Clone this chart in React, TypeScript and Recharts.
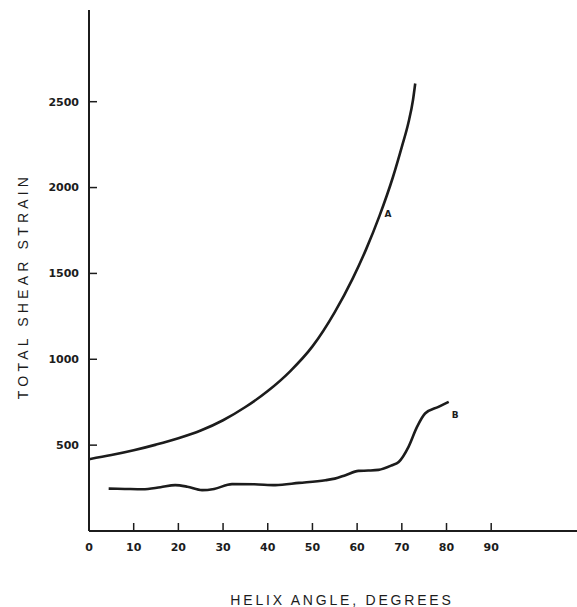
import React from "react";
import { LineChart, Line, XAxis, YAxis, LabelList } from "recharts";

// curve A: helix angle (deg) vs total shear strain
const angleA = [0, 5, 10, 15, 20, 25, 30, 35, 40, 45, 50, 55, 59, 62, 65, 68, 70, 71.5, 72.5, 73];
const strainA = [418, 442, 470, 503, 540, 585, 645, 722, 815, 930, 1075, 1275, 1470, 1640, 1835, 2060, 2237, 2380, 2510, 2606];

// curve B
const angleB = [4.4, 8, 12, 16, 19.3, 22, 25.3, 28, 32, 37, 41.7, 47, 52.9, 55, 57.4, 60.3, 62.5, 64.8, 67.8, 69.3, 71.5, 73.4, 75.2, 78.2, 80.5];
const strainB = [247, 245, 243, 255, 267, 258, 238, 245, 273, 272, 267, 280, 296, 305, 325, 350, 352, 356, 383, 402, 490, 606, 684, 723, 752];

const xTicks = [0, 10, 20, 30, 40, 50, 60, 70, 80, 90];
const yTicks = [500, 1000, 1500, 2000, 2500];

const curveNames = ["A", "B"];
const labelIndexA = 14;

const dataA = angleA.map((a, i) => ({ angle: a, strain: strainA[i] }));
const dataB = angleB.map((a, i) => ({ angle: a, strain: strainB[i] }));

const INK = "#1c1c1c";
const tickStyle = {
  fontSize: 11,
  fontWeight: 700,
  fill: INK,
  fontFamily: "DejaVu Sans",
};

function XTitle() {
  return (
    <text
      x={342}
      y={605}
      textAnchor="middle"
      fontFamily="Liberation Sans"
      fontSize={14}
      letterSpacing={2.8}
      fill={INK}
    >
      HELIX ANGLE, DEGREES
    </text>
  );
}

function YTitle() {
  return (
    <text
      x={0}
      y={0}
      transform="translate(27.5, 286) rotate(-90)"
      textAnchor="middle"
      fontFamily="Liberation Sans"
      fontSize={14}
      letterSpacing={4.2}
      fill={INK}
    >
      TOTAL SHEAR STRAIN
    </text>
  );
}

function curveLabel(name: string, idx: number, dx: number, dy: number) {
  return (props: any) => {
    if (props.index !== idx) return null;
    return (
      <text
        x={props.x + dx}
        y={props.y + dy}
        fontFamily="DejaVu Sans"
        fontWeight={700}
        fontSize={9}
        fill={INK}
      >
        {name}
      </text>
    );
  };
}

export default function App() {
  return (
    <div style={{ position: "absolute", left: 0, top: 0, width: 577, height: 607, background: "#fff", overflow: "hidden" }}>
      <LineChart width={577} height={607} margin={{ top: 10, right: 0, bottom: 0, left: 0 }}>
        <XAxis
          type="number"
          dataKey="angle"
          domain={[0, 109.2]}
          ticks={xTicks}
          height={76}
          axisLine={{ stroke: INK, strokeWidth: 2 }}
          tickLine={{ stroke: INK, strokeWidth: 1.5 }}
          tickSize={-8}
          tickMargin={20}
          tick={tickStyle}
          interval={0}
          allowDataOverflow
          label={<XTitle />}
        />
        <YAxis
          type="number"
          dataKey="strain"
          domain={[0, 3034]}
          ticks={yTicks}
          width={89}
          axisLine={{ stroke: INK, strokeWidth: 2 }}
          tickLine={{ stroke: INK, strokeWidth: 1.5 }}
          tickSize={-8}
          tickMargin={18}
          tick={tickStyle}
          interval={0}
          allowDataOverflow
          label={<YTitle />}
        />
        <Line
          data={dataA}
          dataKey="strain"
          type="monotone"
          stroke={INK}
          strokeWidth={2.6}
          dot={false}
          isAnimationActive={false}
        >
          <LabelList dataKey="strain" content={curveLabel(curveNames[0], labelIndexA, 5, 1)} />
        </Line>
        <Line
          data={dataB}
          dataKey="strain"
          type="monotone"
          stroke={INK}
          strokeWidth={2.6}
          dot={false}
          isAnimationActive={false}
        >
          <LabelList dataKey="strain" content={curveLabel(curveNames[1], dataB.length - 1, 3, 16)} />
        </Line>
      </LineChart>
    </div>
  );
}
